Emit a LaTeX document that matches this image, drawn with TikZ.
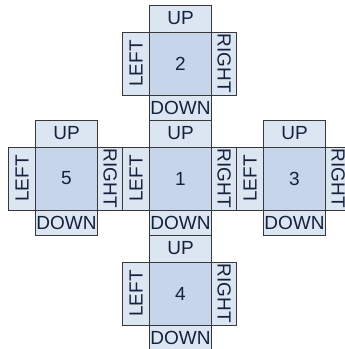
\documentclass[tikz,border=0pt]{standalone}
\usepackage{fontspec}
\setmainfont{Liberation Sans}
\usepackage{xcolor}
\usetikzlibrary{positioning}
\definecolor{faceblue}{HTML}{C6D5E9}
\definecolor{tabblue}{HTML}{DCE6F2}
\definecolor{edgegray}{HTML}{383838}
\definecolor{inkblue}{HTML}{14223E}
\tikzset{
  face/.style  ={draw=edgegray, line width=0.9pt, fill=faceblue, minimum width=62.4pt, minimum height=63pt, inner sep=0pt, outer sep=0pt, text=inkblue, font=\fontsize{19}{19}\selectfont},
  uptab/.style ={draw=edgegray, line width=0.9pt, fill=tabblue, minimum width=62.4pt, minimum height=27pt, inner sep=0pt, outer sep=0pt, text=inkblue, font=\fontsize{19}{19}\selectfont},
  dntab/.style ={uptab, minimum height=25pt},
  lftab/.style ={draw=edgegray, line width=0.9pt, fill=tabblue, minimum width=26.5pt, minimum height=63pt, inner sep=0pt, outer sep=0pt, text=inkblue, font=\fontsize{19}{19}\selectfont},
  rttab/.style ={lftab, minimum width=25pt},
}
\newcommand{\lfword}{\rotatebox{90}{LEFT}}
\newcommand{\rtword}{\rotatebox{-90}{RIGHT}}

\begin{document}
\begin{tikzpicture}[x=1pt, y=-1pt, node distance=52pt and 51.6pt]
  \useasboundingbox[fill=white] (0,0) rectangle (345,349);
  \node[face] (f1) at (180.5,178.5) {1};
  \node[face, above=of f1] (f2) {2};
  \node[face, right=of f1] (f3) {3};
  \node[face, below=of f1] (f4) {4};
  \node[face, left=of f1] (f5) {5};
  % tabs of face 1
  \node[uptab, above=0pt of f1] (u1) {UP};
  \node[dntab, below=0pt of f1] (d1) {DOWN};
  \node[lftab, left=0pt of f1] (l1) {\lfword};
  \node[rttab, right=0pt of f1] (r1) {\rtword};
  % tabs of face 2
  \node[uptab, above=0pt of f2] (u2) {UP};
  \node[dntab, below=0pt of f2] (d2) {DOWN};
  \node[lftab, left=0pt of f2] (l2) {\lfword};
  \node[rttab, right=0pt of f2] (r2) {\rtword};
  % tabs of face 3
  \node[uptab, above=0pt of f3] (u3) {UP};
  \node[dntab, below=0pt of f3] (d3) {DOWN};
  \node[lftab, left=0pt of f3] (l3) {\lfword};
  \node[rttab, right=0pt of f3] (r3) {\rtword};
  % tabs of face 4
  \node[uptab, above=0pt of f4] (u4) {UP};
  \node[dntab, below=0pt of f4] (d4) {DOWN};
  \node[lftab, left=0pt of f4] (l4) {\lfword};
  \node[rttab, right=0pt of f4] (r4) {\rtword};
  % tabs of face 5
  \node[uptab, above=0pt of f5] (u5) {UP};
  \node[dntab, below=0pt of f5] (d5) {DOWN};
  \node[lftab, left=0pt of f5] (l5) {\lfword};
  \node[rttab, right=0pt of f5] (r5) {\rtword};
\end{tikzpicture}
\end{document}
